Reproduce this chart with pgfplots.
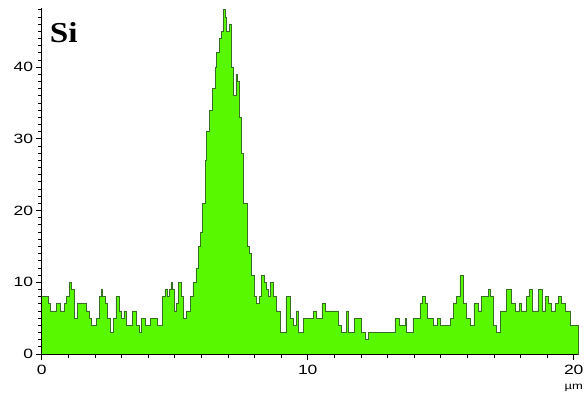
\documentclass[border=0pt]{standalone}
\usepackage{pgfplots}
\pgfplotsset{compat=1.18}
\usepackage{fontspec}
\setmainfont{Liberation Sans}
\newfontfamily\serifb{Liberation Serif}[FakeStretch=1.15]
\newfontfamily\tickf{Liberation Sans}[FakeStretch=1.3]
\definecolor{barfill}{RGB}{88,248,0}
\definecolor{barline}{RGB}{55,110,35}
\begin{document}
\begin{tikzpicture}
\path[use as bounding box] (-41.7bp,-40bp) rectangle (542.3bp,354bp);
\begin{axis}[
  at={(0,0)}, anchor=south west,
  scale only axis, width=536.3bp, height=345.7bp,
  xmin=0, xmax=20.16, ymin=0, ymax=48.2,
  axis x line=bottom, axis y line=left,
  axis line style={-, black, line width=0.8bp},
  axis on top, clip=false,
  xtick={0,10,20}, minor xtick={1,...,9,11,12,...,19},
  ytick={0,10,20,30,40}, minor ytick={1,...,48},
  tick align=outside, major tick length=6bp, minor tick length=3.5bp,
  tick style={black, line width=0.8bp},
  every tick label/.append style={font=\tickf\fontsize{13.5}{15}\selectfont},
  yticklabel style={xshift=1bp},
  xticklabel style={yshift=-2bp},
  /pgf/number format/assume math mode=true,
]
\addplot[const plot, fill=barfill, draw=barline, line width=0.6bp] table {
x y
0.00 8
0.25 7
0.34 6
0.56 7
0.71 6
0.84 7
0.94 8
1.03 10
1.13 9
1.21 5
1.34 7
1.69 6
1.79 5
1.88 4
2.06 5
2.16 8
2.23 9
2.28 8
2.38 7
2.46 5
2.56 3
2.71 5
2.79 8
2.91 6
3.00 5
3.09 6
3.19 4
3.41 6
3.56 4
3.66 3
3.75 5
3.88 4
4.09 5
4.34 4
4.54 8
4.63 9
4.71 8
4.81 9
4.86 10
4.91 9
5.00 6
5.06 7
5.15 10
5.23 8
5.33 5
5.45 6
5.58 8
5.68 10
5.80 12
5.89 15
5.98 17
6.05 21
6.14 27
6.20 31
6.30 34
6.42 37
6.52 40
6.58 42
6.68 44
6.77 45
6.83 48
6.89 47
6.95 45
7.05 46
7.14 40
7.21 36
7.30 39
7.36 38
7.43 33
7.52 28
7.58 21
7.71 15
7.81 14
7.89 11
7.98 8
8.08 7
8.18 8
8.27 11
8.36 10
8.43 9
8.52 8
8.61 10
8.71 8
8.83 6
8.96 3
9.18 8
9.34 5
9.46 4
9.56 6
9.65 3
9.84 5
10.21 6
10.34 5
10.53 7
10.67 6
11.15 4
11.28 3
11.46 6
11.53 3
11.74 5
12.03 3
12.15 2
12.28 3
13.28 5
13.44 4
13.66 5
13.72 3
13.95 5
14.22 7
14.32 8
14.41 7
14.50 5
14.72 4
14.88 5
14.97 4
15.35 5
15.47 7
15.60 8
15.72 11
15.85 7
15.97 5
16.10 4
16.25 7
16.40 6
16.54 8
16.79 9
16.85 8
16.98 4
17.10 3
17.23 6
17.48 9
17.67 7
17.79 6
17.96 7
18.01 6
18.23 8
18.33 9
18.46 6
18.67 9
18.80 6
18.92 8
19.05 7
19.17 6
19.30 7
19.42 8
19.55 7
19.67 6
19.86 4
20.16 4
} \closedcycle;
\node[anchor=base west, font=\serifb\bfseries\fontsize{29}{32}\selectfont, inner sep=0pt]
  at (axis description cs:0,1) [xshift=8bp, yshift=-34bp] {Si};
\node[font=\tickf\fontsize{10}{11}\selectfont, inner sep=0pt] at (axis cs:20,0) [yshift=-34bp] {µm};
\end{axis}
\end{tikzpicture}
\end{document}
